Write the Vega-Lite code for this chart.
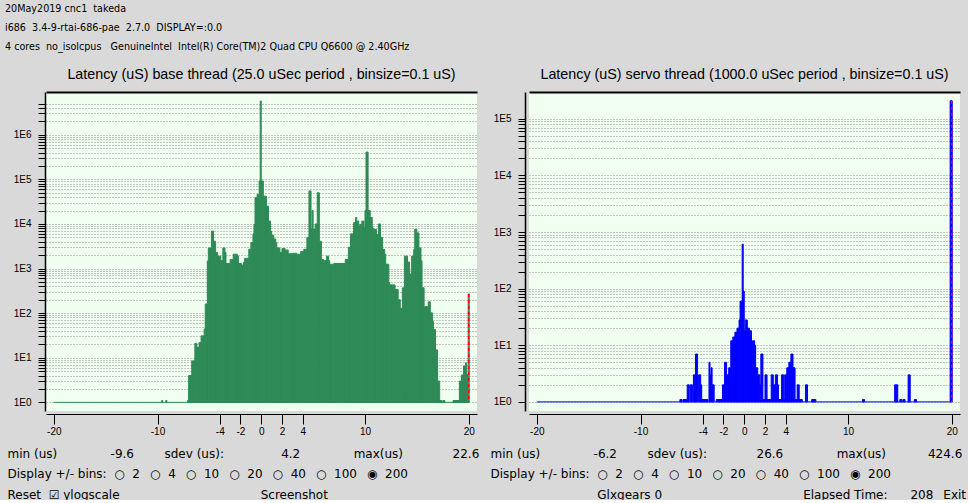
{
  "$schema": "https://vega.github.io/schema/vega-lite/v6.json",
  "background": "#d9d9d9",
  "padding": {"left": 5, "top": 4, "right": 2, "bottom": 0},
  "title": {
    "text": ["20May2019 cnc1\u00a0 takeda", "\u00a0i686\u00a0\u00a03.4-9-rtai-686-pae\u00a0\u00a02.7.0\u00a0\u00a0DISPLAY=:0.0", "\u00a04 cores\u00a0\u00a0no_isolcpus\u00a0\u00a0\u00a0GenuineIntel\u00a0\u00a0Intel(R) Core(TM)2 Quad CPU Q6600 @ 2.40GHz"],
    "anchor": "start", "frame": "bounds", "font": "DejaVu Sans", "fontSize": 9.6, "fontWeight": "normal",
    "color": "#000000", "lineHeight": 19, "offset": 16, "dx": -2
  },
  "datasets": {
    "edge": [{"lo": -20, "hi": 20, "n": 1}],
    "base": [
      {"lo": -9.6, "hi": -9.5, "n": 1.1}, {"lo": -9.2, "hi": -9.1, "n": 1.1}, {"lo": -7.1, "hi": -7.0, "n": 1.1},
      {"lo": -7.0, "hi": -6.7, "n": 4}, {"lo": -6.7, "hi": -6.4, "n": 8.5}, {"lo": -6.4, "hi": -6.2, "n": 21},
      {"lo": -6.2, "hi": -6.0, "n": 17}, {"lo": -6.0, "hi": -5.8, "n": 22}, {"lo": -5.8, "hi": -5.5, "n": 31},
      {"lo": -5.5, "hi": -5.4, "n": 44}, {"lo": -5.4, "hi": -5.2, "n": 160}, {"lo": -5.2, "hi": -5.1, "n": 1480},
      {"lo": -5.1, "hi": -4.8, "n": 2900}, {"lo": -4.8, "hi": -4.6, "n": 6900}, {"lo": -4.6, "hi": -4.4, "n": 4100},
      {"lo": -4.4, "hi": -4.2, "n": 2300}, {"lo": -4.2, "hi": -3.9, "n": 1900}, {"lo": -3.9, "hi": -3.7, "n": 1500},
      {"lo": -3.7, "hi": -3.5, "n": 2900}, {"lo": -3.5, "hi": -3.4, "n": 2300}, {"lo": -3.4, "hi": -3.0, "n": 1300},
      {"lo": -3.0, "hi": -2.7, "n": 1600}, {"lo": -2.7, "hi": -2.3, "n": 2100}, {"lo": -2.3, "hi": -2.2, "n": 1900},
      {"lo": -2.2, "hi": -1.9, "n": 1300}, {"lo": -1.9, "hi": -1.7, "n": 1200}, {"lo": -1.7, "hi": -1.6, "n": 1400},
      {"lo": -1.6, "hi": -1.2, "n": 1700}, {"lo": -1.2, "hi": -1.0, "n": 2700}, {"lo": -1.0, "hi": -0.8, "n": 3800},
      {"lo": -0.8, "hi": -0.7, "n": 6000}, {"lo": -0.7, "hi": -0.6, "n": 9800}, {"lo": -0.6, "hi": -0.4, "n": 39000},
      {"lo": -0.4, "hi": -0.2, "n": 46000}, {"lo": -0.2, "hi": -0.1, "n": 92000}, {"lo": -0.1, "hi": 0.0, "n": 5700000},
      {"lo": 0.0, "hi": 0.2, "n": 92000}, {"lo": 0.2, "hi": 0.5, "n": 42000}, {"lo": 0.5, "hi": 0.7, "n": 25000},
      {"lo": 0.7, "hi": 0.9, "n": 11600}, {"lo": 0.9, "hi": 1.0, "n": 6900}, {"lo": 1.0, "hi": 1.2, "n": 5600},
      {"lo": 1.2, "hi": 1.4, "n": 4600}, {"lo": 1.4, "hi": 1.5, "n": 3800}, {"lo": 1.5, "hi": 1.8, "n": 2900},
      {"lo": 1.8, "hi": 2.0, "n": 2300}, {"lo": 2.0, "hi": 2.3, "n": 2800}, {"lo": 2.3, "hi": 2.6, "n": 2600},
      {"lo": 2.6, "hi": 3.1, "n": 2150}, {"lo": 3.1, "hi": 3.4, "n": 2200}, {"lo": 3.4, "hi": 3.8, "n": 2100},
      {"lo": 3.8, "hi": 4.1, "n": 2400}, {"lo": 4.1, "hi": 4.4, "n": 2700}, {"lo": 4.4, "hi": 4.6, "n": 5000},
      {"lo": 4.6, "hi": 4.8, "n": 55000}, {"lo": 4.8, "hi": 4.9, "n": 7600}, {"lo": 4.9, "hi": 5.0, "n": 20000},
      {"lo": 5.0, "hi": 5.2, "n": 7600}, {"lo": 5.2, "hi": 5.4, "n": 10000}, {"lo": 5.4, "hi": 5.6, "n": 50000},
      {"lo": 5.6, "hi": 5.8, "n": 4100}, {"lo": 5.8, "hi": 6.0, "n": 1600}, {"lo": 6.0, "hi": 6.3, "n": 1500},
      {"lo": 6.3, "hi": 6.5, "n": 1900}, {"lo": 6.5, "hi": 6.6, "n": 1500}, {"lo": 6.6, "hi": 7.0, "n": 1250},
      {"lo": 7.0, "hi": 8.1, "n": 1300}, {"lo": 8.1, "hi": 8.4, "n": 1600}, {"lo": 8.4, "hi": 8.6, "n": 3000},
      {"lo": 8.6, "hi": 8.9, "n": 6000}, {"lo": 8.9, "hi": 9.1, "n": 10700}, {"lo": 9.1, "hi": 9.2, "n": 14000},
      {"lo": 9.2, "hi": 9.4, "n": 11600}, {"lo": 9.4, "hi": 9.5, "n": 8900}, {"lo": 9.5, "hi": 9.7, "n": 9800},
      {"lo": 9.7, "hi": 9.9, "n": 11600}, {"lo": 9.9, "hi": 10.0, "n": 8200}, {"lo": 10.0, "hi": 10.1, "n": 20000},
      {"lo": 10.1, "hi": 10.3, "n": 410000}, {"lo": 10.3, "hi": 10.5, "n": 20000}, {"lo": 10.5, "hi": 10.7, "n": 14000},
      {"lo": 10.7, "hi": 10.8, "n": 8200}, {"lo": 10.8, "hi": 11.1, "n": 7600}, {"lo": 11.1, "hi": 11.3, "n": 5800},
      {"lo": 11.3, "hi": 11.5, "n": 10000}, {"lo": 11.5, "hi": 11.7, "n": 5000}, {"lo": 11.7, "hi": 11.9, "n": 2700},
      {"lo": 11.9, "hi": 12.0, "n": 2100}, {"lo": 12.0, "hi": 12.3, "n": 1250}, {"lo": 12.3, "hi": 12.4, "n": 480},
      {"lo": 12.4, "hi": 12.9, "n": 430}, {"lo": 12.9, "hi": 13.2, "n": 340}, {"lo": 13.2, "hi": 13.4, "n": 200},
      {"lo": 13.4, "hi": 13.6, "n": 128}, {"lo": 13.6, "hi": 13.8, "n": 370}, {"lo": 13.8, "hi": 14.1, "n": 1900},
      {"lo": 14.1, "hi": 14.3, "n": 1400}, {"lo": 14.3, "hi": 14.5, "n": 740}, {"lo": 14.5, "hi": 14.7, "n": 1900},
      {"lo": 14.7, "hi": 14.8, "n": 2700}, {"lo": 14.8, "hi": 15.0, "n": 7600}, {"lo": 15.0, "hi": 15.2, "n": 6300},
      {"lo": 15.2, "hi": 15.4, "n": 2900}, {"lo": 15.4, "hi": 15.5, "n": 1500}, {"lo": 15.5, "hi": 15.7, "n": 370},
      {"lo": 15.7, "hi": 15.8, "n": 137}, {"lo": 15.8, "hi": 16.1, "n": 140}, {"lo": 16.1, "hi": 16.3, "n": 180},
      {"lo": 16.3, "hi": 16.5, "n": 102}, {"lo": 16.5, "hi": 16.6, "n": 66}, {"lo": 16.6, "hi": 16.8, "n": 43},
      {"lo": 16.8, "hi": 17.0, "n": 15}, {"lo": 17.0, "hi": 17.2, "n": 3}, {"lo": 17.2, "hi": 17.4, "n": 1.1},
      {"lo": 17.5, "hi": 17.7, "n": 1.1}, {"lo": 18.5, "hi": 19.1, "n": 1.1}, {"lo": 19.1, "hi": 19.3, "n": 3},
      {"lo": 19.3, "hi": 19.5, "n": 4.1}, {"lo": 19.5, "hi": 19.7, "n": 6.5}, {"lo": 19.7, "hi": 19.8, "n": 7.7},
      {"lo": 19.8, "hi": 19.95, "n": 4.2}, {"lo": 19.95, "hi": 20.05, "n": 270}
    ],
    "servo": [
      {"lo": -6.2, "hi": -6.0, "n": 1.1}, {"lo": -5.9, "hi": -5.5, "n": 1.1}, {"lo": -5.5, "hi": -5.3, "n": 2},
      {"lo": -5.2, "hi": -5.0, "n": 2}, {"lo": -4.9, "hi": -4.7, "n": 3}, {"lo": -4.7, "hi": -4.5, "n": 7},
      {"lo": -4.4, "hi": -4.2, "n": 3}, {"lo": -4.2, "hi": -4.1, "n": 2}, {"lo": -4.1, "hi": -3.5, "n": 1.1},
      {"lo": -3.4, "hi": -3.3, "n": 5}, {"lo": -3.3, "hi": -3.2, "n": 3}, {"lo": -3.2, "hi": -3.1, "n": 4},
      {"lo": -3.1, "hi": -2.9, "n": 2}, {"lo": -2.7, "hi": -2.1, "n": 1.1}, {"lo": -2.1, "hi": -1.9, "n": 2},
      {"lo": -1.9, "hi": -1.7, "n": 5}, {"lo": -1.7, "hi": -1.5, "n": 3}, {"lo": -1.5, "hi": -1.3, "n": 4},
      {"lo": -1.3, "hi": -1.1, "n": 12}, {"lo": -1.1, "hi": -0.9, "n": 14}, {"lo": -0.9, "hi": -0.7, "n": 17},
      {"lo": -0.7, "hi": -0.5, "n": 20}, {"lo": -0.5, "hi": -0.4, "n": 28}, {"lo": -0.4, "hi": -0.2, "n": 60},
      {"lo": -0.2, "hi": -0.1, "n": 610}, {"lo": -0.1, "hi": 0.0, "n": 90}, {"lo": 0.0, "hi": 0.1, "n": 18},
      {"lo": 0.1, "hi": 0.3, "n": 28}, {"lo": 0.3, "hi": 0.5, "n": 20}, {"lo": 0.5, "hi": 0.7, "n": 18},
      {"lo": 0.7, "hi": 0.8, "n": 8}, {"lo": 0.8, "hi": 1.0, "n": 12}, {"lo": 1.0, "hi": 1.1, "n": 10},
      {"lo": 1.1, "hi": 1.3, "n": 4}, {"lo": 1.3, "hi": 1.5, "n": 3}, {"lo": 1.5, "hi": 1.6, "n": 2},
      {"lo": 1.6, "hi": 1.8, "n": 7}, {"lo": 1.8, "hi": 2.0, "n": 1.1}, {"lo": 2.0, "hi": 2.2, "n": 3},
      {"lo": 2.2, "hi": 2.6, "n": 1.1}, {"lo": 2.6, "hi": 2.8, "n": 3}, {"lo": 2.8, "hi": 3.0, "n": 2},
      {"lo": 3.0, "hi": 3.2, "n": 3}, {"lo": 3.2, "hi": 3.3, "n": 2}, {"lo": 3.3, "hi": 3.6, "n": 1.1},
      {"lo": 3.6, "hi": 3.8, "n": 3}, {"lo": 3.8, "hi": 3.9, "n": 1.1}, {"lo": 3.9, "hi": 4.1, "n": 3},
      {"lo": 4.1, "hi": 4.3, "n": 4}, {"lo": 4.3, "hi": 4.5, "n": 5}, {"lo": 4.5, "hi": 4.7, "n": 7},
      {"lo": 4.7, "hi": 4.9, "n": 4}, {"lo": 4.9, "hi": 5.1, "n": 1.1}, {"lo": 5.1, "hi": 5.3, "n": 2},
      {"lo": 5.3, "hi": 5.6, "n": 1.1}, {"lo": 5.9, "hi": 6.1, "n": 2}, {"lo": 6.5, "hi": 6.9, "n": 1.1},
      {"lo": 11.4, "hi": 11.6, "n": 1.1}, {"lo": 14.5, "hi": 14.8, "n": 2}, {"lo": 15.0, "hi": 15.2, "n": 1.1},
      {"lo": 15.3, "hi": 15.5, "n": 1.1}, {"lo": 15.8, "hi": 16.0, "n": 3}, {"lo": 16.4, "hi": 16.6, "n": 1.1},
      {"lo": 19.85, "hi": 20.05, "n": 208000}
    ]
  },
  "spacing": 11,
  "hconcat": [
    {
      "width": 431,
      "height": 319,
      "title": {"text": "Latency (uS) base thread (25.0 uSec period , binsize=0.1 uS)", "frame": "group"},
      "resolve": {"axis": {"x": "independent", "y": "independent"}},
      "layer": [
        {
          "data": {"name": "base"},
          "mark": {"type": "rect", "color": "#2e8b57", "stroke": "#2e8b57", "strokeWidth": 1},
          "encoding": {
            "x": {"field": "lo", "type": "quantitative",
              "scale": {"domain": [-20.75, 20.8], "nice": false, "zero": false},
              "axis": {
                "values": [-20, -10, -4, -2, 0, 2, 4, 10, 20], "labelExpr": "'' + datum.value",
                "domainColor": "#000000", "domainWidth": 1, "tickColor": "#000000", "tickSize": 10, "tickWidth": 1, "offset": 3,
                "labelFont": "Liberation Sans", "labelFontSize": 10, "labelColor": "#000000", "labelPadding": 2,
                "labelFlush": false, "labelOverlap": false, "grid": false,
                "title": [
                  "min (us)\u00a0\u00a0\u00a0\u00a0\u00a0\u00a0\u00a0\u00a0\u00a0\u00a0\u00a0\u00a0\u00a0\u00a0-9.6\u00a0\u00a0\u00a0\u00a0\u00a0\u00a0\u00a0\u00a0sdev (us):\u00a0\u00a0\u00a0\u00a0\u00a0\u00a0\u00a0\u00a0\u00a0\u00a0\u00a0\u00a0\u00a0\u00a0\u00a04.2\u00a0\u00a0\u00a0\u00a0\u00a0\u00a0\u00a0\u00a0\u00a0\u00a0\u00a0\u00a0\u00a0\u00a0max(us)\u00a0\u00a0\u00a0\u00a0\u00a0\u00a0\u00a0\u00a0\u00a0\u00a0\u00a0\u00a0\u00a022.6",
                  "Display +/- bins:\u00a0\u00a0○\u00a0\u00a02\u00a0\u00a0\u2009○\u00a0\u00a04\u00a0\u00a0\u2009○\u00a0\u00a010\u00a0\u00a0\u2009○\u00a0\u00a020\u00a0\u00a0\u2009○\u00a0\u00a040\u00a0\u00a0\u2009○\u00a0\u00a0100\u00a0\u00a0\u2009◉\u00a0\u00a0200",
                  "Reset\u00a0\u00a0☑\u00a0ylogscale\u00a0\u00a0\u00a0\u00a0\u00a0\u00a0\u00a0\u00a0\u00a0\u00a0\u00a0\u00a0\u00a0\u00a0\u00a0\u00a0\u00a0\u00a0\u00a0\u00a0\u00a0\u00a0\u00a0\u00a0\u00a0\u00a0\u00a0\u00a0\u00a0\u00a0\u00a0\u00a0\u00a0\u00a0\u00a0\u00a0\u00a0Screenshot"
                ],
                "titleFont": "DejaVu Sans", "titleFontSize": 12, "titleFontWeight": "normal", "titleColor": "#000000",
                "titleX": -39, "titleY": 43, "titleAlign": "left", "titleAnchor": "start", "titleBaseline": "alphabetic",
                "titleLineHeight": 20.5
              }
            },
            "x2": {"field": "hi"},
            "y": {"field": "n", "type": "quantitative",
              "scale": {"type": "log", "domain": [0.64, 9100000], "nice": false},
              "axis": {
                "values": [1,2,3,4,5,6,7,8,9,10,20,30,40,50,60,70,80,90,100,200,300,400,500,600,700,800,900,1000,2000,3000,4000,5000,6000,7000,8000,9000,10000,20000,30000,40000,50000,60000,70000,80000,90000,100000,200000,300000,400000,500000,600000,700000,800000,900000,1000000,2000000,3000000,4000000,5000000],
                "labelExpr": "pow(10, round(log(datum.value)/LN10)) == datum.value ? '1E' + round(log(datum.value)/LN10) : ''",
                "title": null, "domainColor": "#000000", "domainWidth": 1.5, "tickColor": "#000000", "tickSize": 7,
                "labelFont": "Liberation Sans", "labelFontSize": 10, "labelColor": "#000000", "labelPadding": 7,
                "offset": 1, "grid": true, "gridColor": "#8c8c8c", "gridDash": [1, 2], "gridWidth": 1,
                "labelOverlap": false, "labelFlush": false
              }
            },
            "y2": {"datum": 1}
          }
        },
        {
          "data": {"name": "edge"},
          "mark": {"type": "rule", "color": "#2e8b57", "strokeWidth": 1},
          "encoding": {
            "x": {"field": "lo", "type": "quantitative",
              "scale": {"domain": [-20.75, 20.8], "nice": false, "zero": false},
              "axis": {"orient": "top", "domain": true, "domainColor": "#000000", "domainWidth": 2, "ticks": false, "labels": false, "grid": false, "title": null}
            },
            "x2": {"field": "hi"},
            "y": {"field": "n", "type": "quantitative", "axis": null}
          }
        },
        {
          "data": {"name": "base"},
          "transform": [{"filter": "datum.lo >= 19.9"}],
          "mark": {"type": "rule", "color": "#ff0000", "strokeDash": [3, 3], "strokeWidth": 1.5},
          "encoding": {
            "x": {"datum": 20, "type": "quantitative", "axis": null},
            "y": {"field": "n", "type": "quantitative", "axis": null},
            "y2": {"datum": 1}
          }
        }
      ]
    },
    {
      "width": 431,
      "height": 319,
      "title": {"text": "Latency (uS) servo thread (1000.0 uSec period , binsize=0.1 uS)", "frame": "group"},
      "resolve": {"axis": {"x": "independent", "y": "independent"}},
      "layer": [
        {
          "data": {"name": "servo"},
          "mark": {"type": "rect", "color": "#0000ff", "stroke": "#0000ff", "strokeWidth": 1},
          "encoding": {
            "x": {"field": "lo", "type": "quantitative",
              "scale": {"domain": [-20.75, 20.8], "nice": false, "zero": false},
              "axis": {
                "values": [-20, -10, -4, -2, 0, 2, 4, 10, 20], "labelExpr": "'' + datum.value",
                "domainColor": "#000000", "domainWidth": 1, "tickColor": "#000000", "tickSize": 10, "tickWidth": 1, "offset": 3,
                "labelFont": "Liberation Sans", "labelFontSize": 10, "labelColor": "#000000", "labelPadding": 2,
                "labelFlush": false, "labelOverlap": false, "grid": false,
                "title": [
                  "min (us)\u00a0\u00a0\u00a0\u00a0\u00a0\u00a0\u00a0\u00a0\u00a0\u00a0\u00a0\u00a0\u00a0\u00a0-6.2\u00a0\u00a0\u00a0\u00a0\u00a0\u00a0\u00a0\u00a0sdev (us):\u00a0\u00a0\u00a0\u00a0\u00a0\u00a0\u00a0\u00a0\u00a0\u00a0\u00a0\u00a0\u00a026.6\u00a0\u00a0\u00a0\u00a0\u00a0\u00a0\u00a0\u00a0\u00a0\u00a0\u00a0\u00a0\u00a0\u00a0max(us)\u00a0\u00a0\u00a0\u00a0\u00a0\u00a0\u00a0\u00a0\u00a0\u00a0\u00a0424.6",
                  "Display +/- bins:\u00a0\u00a0○\u00a0\u00a02\u00a0\u00a0\u2009○\u00a0\u00a04\u00a0\u00a0\u2009○\u00a0\u00a010\u00a0\u00a0\u2009○\u00a0\u00a020\u00a0\u00a0\u2009○\u00a0\u00a040\u00a0\u00a0\u2009○\u00a0\u00a0100\u00a0\u00a0\u2009◉\u00a0\u00a0200",
                  "\u200b\u00a0\u00a0\u00a0\u00a0\u00a0\u00a0\u00a0\u00a0\u00a0\u00a0\u00a0\u00a0\u00a0\u00a0\u00a0\u00a0\u00a0\u00a0\u00a0\u00a0\u00a0\u00a0\u00a0\u00a0\u00a0\u00a0\u00a0\u00a0Glxgears\u00a00\u00a0\u00a0\u00a0\u00a0\u00a0\u00a0\u00a0\u00a0\u00a0\u00a0\u00a0\u00a0\u00a0\u00a0\u00a0\u00a0\u00a0\u00a0\u00a0\u00a0\u00a0\u00a0\u00a0\u00a0\u00a0\u00a0\u00a0\u00a0\u00a0\u00a0\u00a0\u00a0\u00a0\u00a0\u00a0\u00a0\u00a0Elapsed Time:\u00a0\u00a0\u00a0\u00a0\u00a0\u00a0208\u00a0\u00a0\u2009Exit"
                ],
                "titleFont": "DejaVu Sans", "titleFontSize": 12, "titleFontWeight": "normal", "titleColor": "#000000",
                "titleX": -39, "titleY": 43, "titleAlign": "left", "titleAnchor": "start", "titleBaseline": "alphabetic",
                "titleLineHeight": 20.5
              }
            },
            "x2": {"field": "hi"},
            "y": {"field": "n", "type": "quantitative",
              "scale": {"type": "log", "domain": [0.69, 297000], "nice": false},
              "axis": {
                "values": [1,2,3,4,5,6,7,8,9,10,20,30,40,50,60,70,80,90,100,200,300,400,500,600,700,800,900,1000,2000,3000,4000,5000,6000,7000,8000,9000,10000,20000,30000,40000,50000,60000,70000,80000,90000,100000],
                "labelExpr": "pow(10, round(log(datum.value)/LN10)) == datum.value ? '1E' + round(log(datum.value)/LN10) : ''",
                "title": null, "domainColor": "#000000", "domainWidth": 1.5, "tickColor": "#000000", "tickSize": 7,
                "labelFont": "Liberation Sans", "labelFontSize": 10, "labelColor": "#000000", "labelPadding": 7,
                "offset": 4, "grid": true, "gridColor": "#8c8c8c", "gridDash": [1, 2], "gridWidth": 1,
                "labelOverlap": false, "labelFlush": false
              }
            },
            "y2": {"datum": 1}
          }
        },
        {
          "data": {"name": "edge"},
          "mark": {"type": "rule", "color": "#0000ff", "strokeWidth": 1},
          "encoding": {
            "x": {"field": "lo", "type": "quantitative",
              "scale": {"domain": [-20.75, 20.8], "nice": false, "zero": false},
              "axis": {"orient": "top", "domain": true, "domainColor": "#000000", "domainWidth": 2, "ticks": false, "labels": false, "grid": false, "title": null}
            },
            "x2": {"field": "hi"},
            "y": {"field": "n", "type": "quantitative", "axis": null}
          }
        },
        {
          "data": {"name": "servo"},
          "transform": [{"filter": "datum.lo >= 19.8"}],
          "mark": {"type": "rule", "color": "#ff0000", "strokeDash": [3, 3], "strokeWidth": 1.5},
          "encoding": {
            "x": {"datum": 20, "type": "quantitative", "axis": null},
            "y": {"field": "n", "type": "quantitative", "axis": null},
            "y2": {"datum": 1}
          }
        }
      ]
    }
  ],
  "config": {
    "view": {"fill": "#f0fff0", "stroke": null},
    "title": {"font": "Liberation Sans", "fontSize": 14.3, "fontWeight": "normal", "color": "#000000", "offset": 10}
  }
}
